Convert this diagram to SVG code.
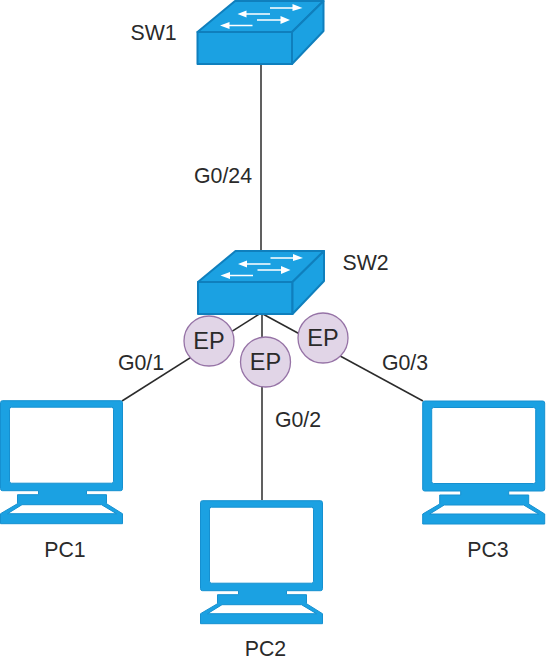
<svg xmlns="http://www.w3.org/2000/svg" width="546" height="664" viewBox="0 0 546 664">
<style>
text{font-family:"Liberation Sans",Arial,sans-serif;font-size:21.300px;fill:#2a2a2a;text-anchor:middle}
.c{stroke:#2b2b2b;stroke-width:1.5;fill:none}
.sw{fill:#1ba1e2;stroke:#0f7fbd;stroke-width:2;stroke-linejoin:round}
.ar{stroke:#fff;stroke-width:1.600;fill:none}
.ah{fill:#fff}
.ep{fill:#e1d5e7;stroke:#9673a6;stroke-width:1.3}
.pc{fill:#1ba1e2;stroke:#1690d0;stroke-width:1;fill-rule:evenodd}
.ept{font-size:23.500px}
</style>
<defs>
<g id="switch">
<path class="sw" d="M0 31L37.500 0H126L94.500 31Z"/>
<path class="sw" d="M94.500 31H0V63H94.500Z"/>
<path class="sw" d="M94.500 31L126 0V30L94.500 63Z"/>
<path class="ar" d="M72.500 7H98M72.500 13H46M59.500 19H86M55 24.500H29"/>
<path class="ah" d="M105 7L95 3V10ZM40 13L49 9.500V16.500ZM92.500 19L83 15V23ZM22.500 24.500L32 21V28Z"/>
</g>
<path id="pc" class="pc" d="M2 0H120Q122 0 122 2V88Q122 90 120 90H86V94H106V103L122 113V123H0V113L17 103V94H38V90H2Q0 90 0 88V2Q0 0 2 0ZM11 6.500Q9 6.500 9 8.500V80.500Q9 82.500 11 82.500H111Q113 82.500 113 80.500V8.500Q113 6.500 111 6.500ZM21.500 104L7 113H116L101 104Z"/>
</defs>
<g id="connectors">
<path class="c" d="M261 64V251"/>
<path class="c" d="M261 313L122 401"/>
<path class="c" d="M261 313L423 401"/>
<path class="c" d="M262 313V500"/>
</g>
<g id="SW1"><use href="#switch" x="197.500" y="1"/><text x="153.500" y="40">SW1</text></g>
<g id="SW2"><use href="#switch" x="198" y="251"/><text x="365.500" y="270">SW2</text></g>
<g id="EP1"><circle class="ep" cx="209" cy="341" r="25"/><text class="ept" x="209" y="349">EP</text></g>
<g id="EP2"><circle class="ep" cx="265.500" cy="362" r="25"/><text class="ept" x="265.500" y="370">EP</text></g>
<g id="EP3"><circle class="ep" cx="323" cy="338" r="25"/><text class="ept" x="323" y="346">EP</text></g>
<g id="PC1"><use href="#pc" x="0.500" y="400.700"/><text x="65" y="557">PC1</text></g>
<g id="PC2"><use href="#pc" x="200.500" y="500.700"/><text x="265.500" y="656">PC2</text></g>
<g id="PC3"><use href="#pc" x="422.700" y="401"/><text x="488" y="557">PC3</text></g>
<g id="labels">
<text x="223" y="183">G0/24</text>
<text x="141" y="370">G0/1</text>
<text x="298" y="426.500">G0/2</text>
<text x="405" y="370">G0/3</text>
</g>
</svg>
